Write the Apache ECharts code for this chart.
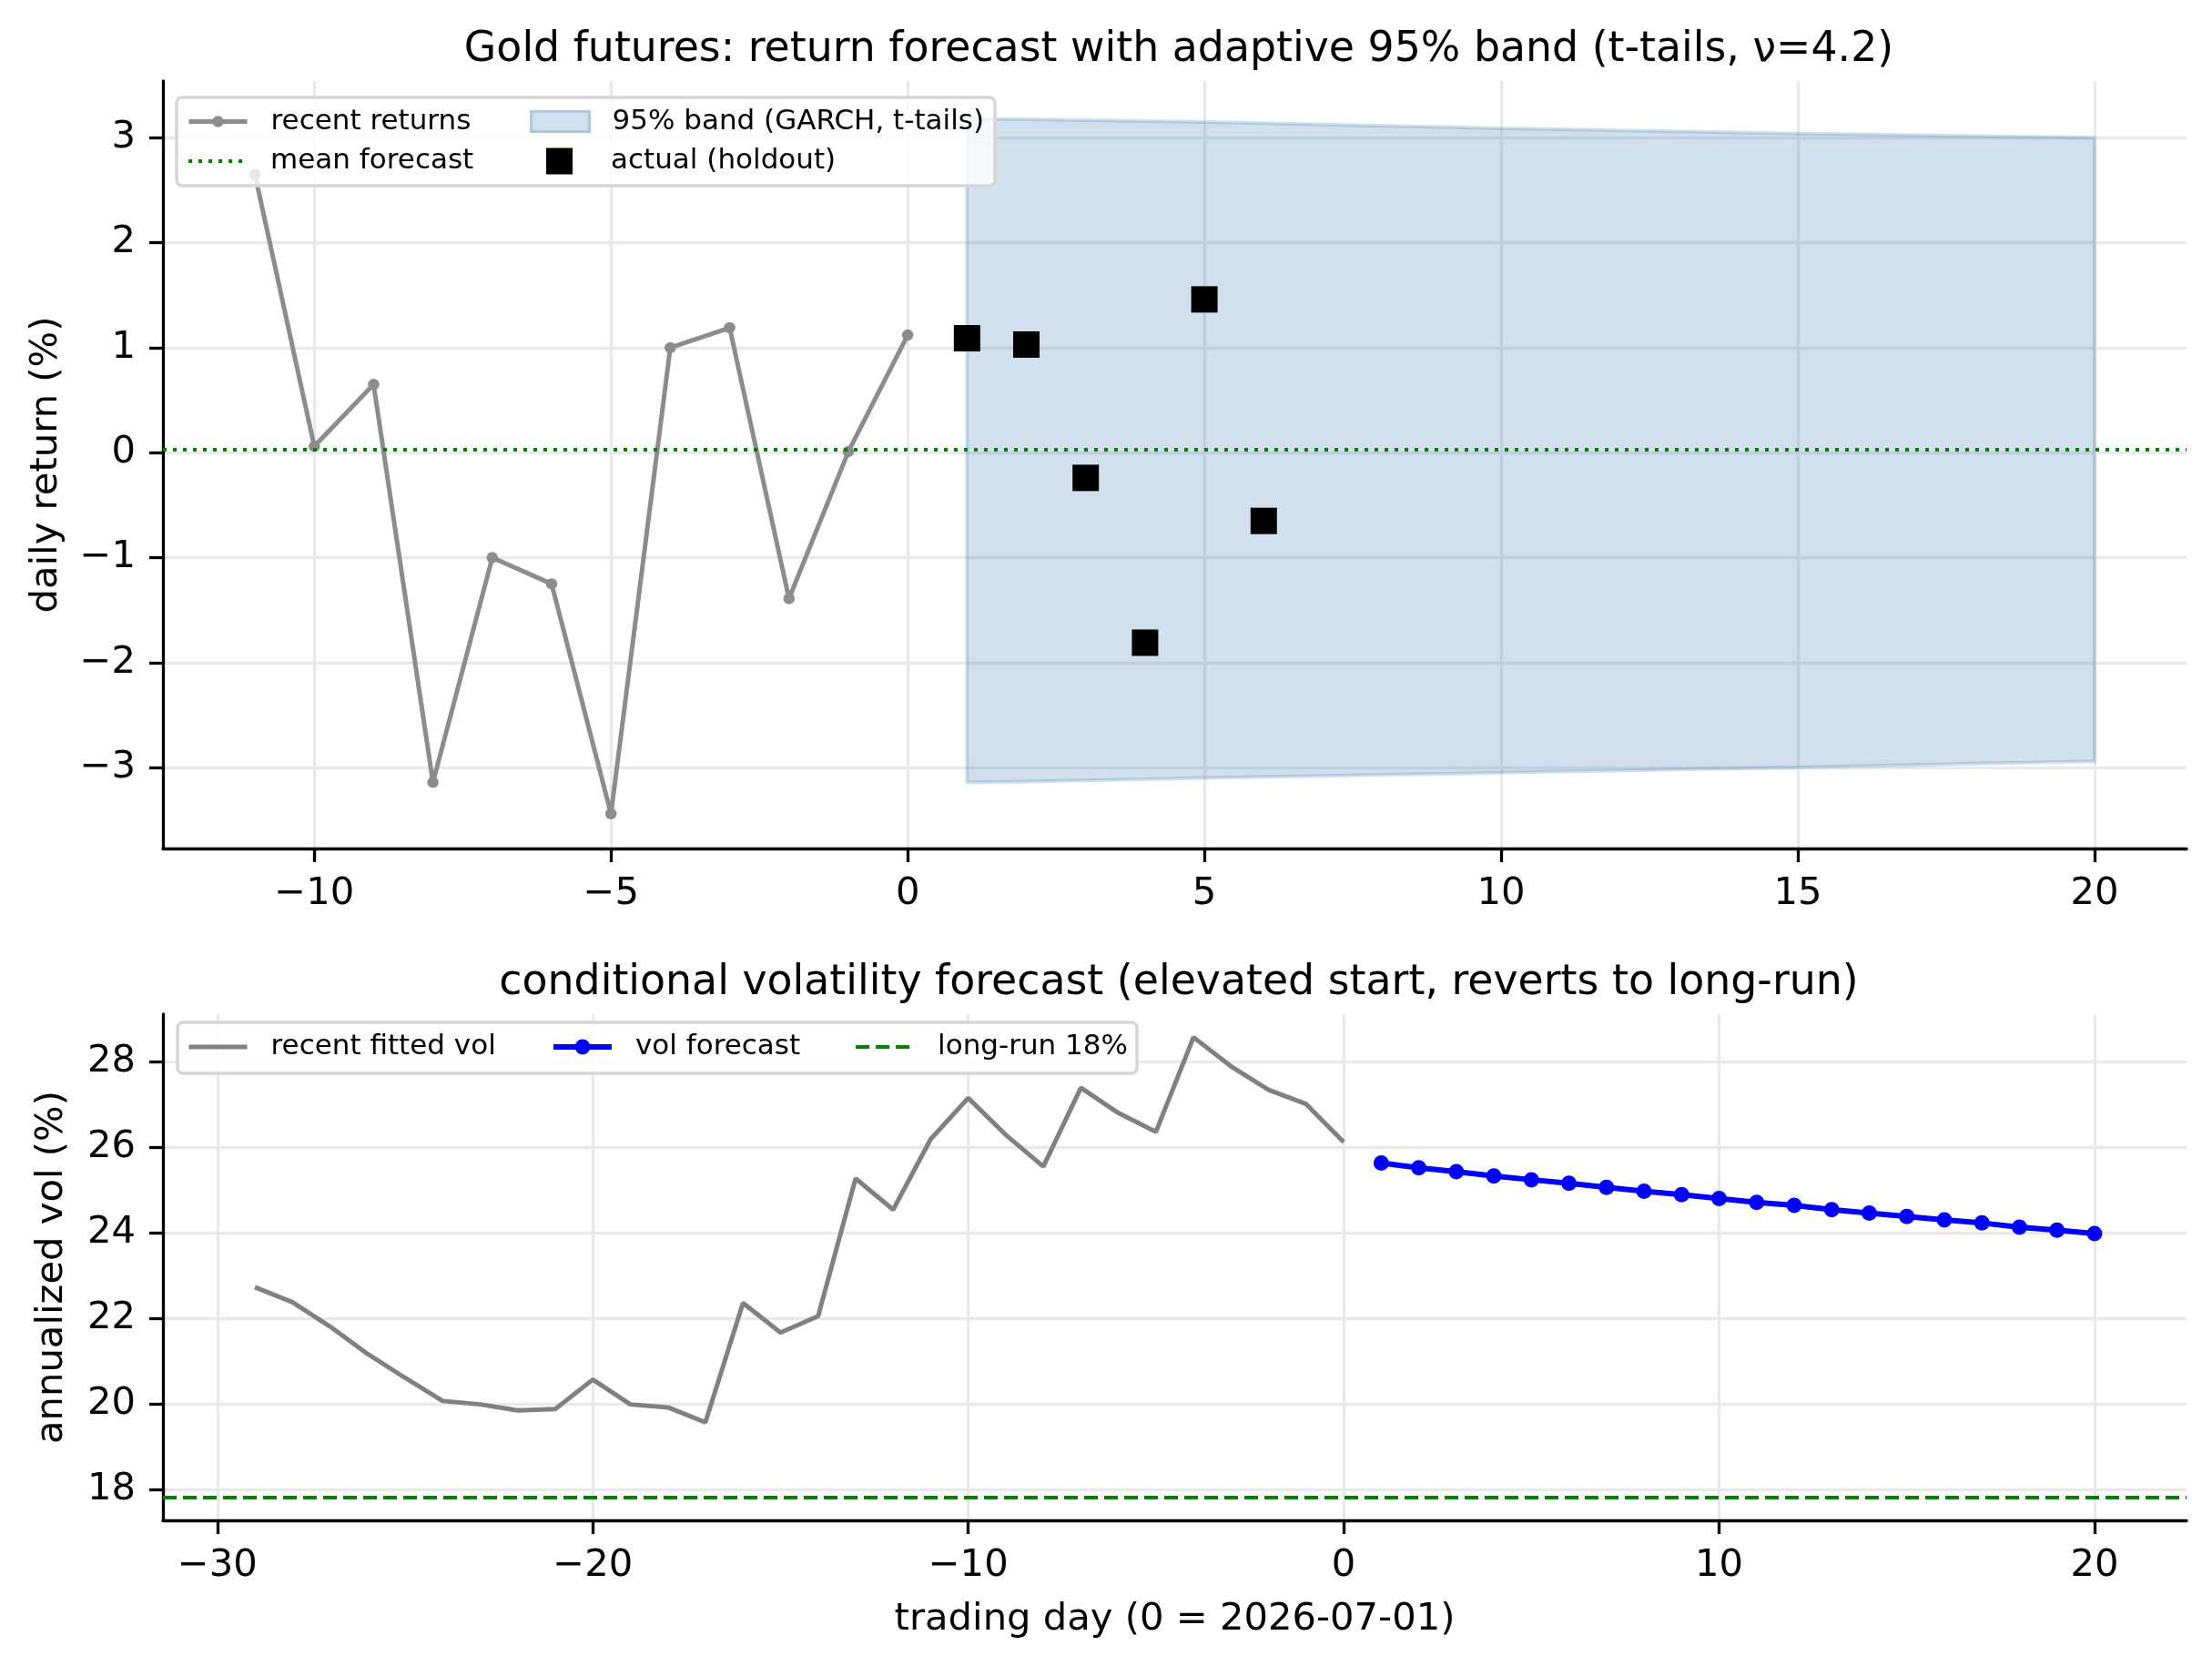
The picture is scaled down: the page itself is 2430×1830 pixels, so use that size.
<!DOCTYPE html>
<html>
<head>
<meta charset="utf-8">
<script src="https://cdn.jsdelivr.net/npm/echarts@6/dist/echarts.min.js"></script>
<style>
  html, body { margin: 0; padding: 0; background: #fff; }
  #chart { width: 2430px; height: 1830px; }
</style>
</head>
<body>
<div id="chart"></div>
<script>
// top panel: recent daily returns, holdout actuals, 95% band
const recentDays = [-11, -10, -9, -8, -7, -6, -5, -4, -3, -2, -1, 0];
const recentReturns = [2.65, 0.06, 0.65, -3.14, -1.0, -1.25, -3.44, 1.0, 1.19, -1.39, 0.01, 1.12];
const holdoutDays = [1, 2, 3, 4, 5, 6];
const holdoutActual = [1.09, 1.03, -0.24, -1.81, 1.46, -0.65];
const bandDays = [1, 2, 3, 4, 5, 6, 7, 8, 9, 10, 11, 12, 13, 14, 15, 16, 17, 18, 19, 20];
const bandHi = [3.18, 3.175, 3.167, 3.158, 3.15, 3.138, 3.126, 3.114, 3.102, 3.09,
                3.08, 3.07, 3.06, 3.05, 3.04, 3.032, 3.024, 3.016, 3.008, 3.0];
const bandLo = [-3.14, -3.132, -3.122, -3.11, -3.098, -3.088, -3.078, -3.068, -3.058, -3.048,
                -3.038, -3.028, -3.018, -3.008, -2.998, -2.986, -2.974, -2.962, -2.95, -2.94];
const meanForecast = 0.03;

// bottom panel: fitted vol and forecast
const volDays = [-29, -28, -27, -26, -25, -24, -23, -22, -21, -20, -19, -18, -17, -16, -15,
                 -14, -13, -12, -11, -10, -9, -8, -7, -6, -5, -4, -3, -2, -1, 0];
const volFitted = [22.74, 22.39, 21.82, 21.18, 20.62, 20.08, 20.0, 19.86, 19.89, 20.58,
                   20.0, 19.93, 19.58, 22.37, 21.68, 22.06, 25.28, 24.55, 26.2, 27.16,
                   26.3, 25.56, 27.4, 26.81, 26.37, 28.58, 27.9, 27.35, 27.02, 26.13];
const fcDays = [1, 2, 3, 4, 5, 6, 7, 8, 9, 10, 11, 12, 13, 14, 15, 16, 17, 18, 19, 20];
const volForecast = [25.64, 25.53, 25.44, 25.34, 25.25, 25.17, 25.07, 24.98, 24.9, 24.81,
                     24.72, 24.65, 24.55, 24.47, 24.39, 24.31, 24.24, 24.14, 24.07, 23.99];
const longRun = 17.82;

// tick labels
const topXTicks = [-10, -5, 0, 5, 10, 15, 20];
const topYTicks = [-3, -2, -1, 0, 1, 2, 3];
const botXTicks = [-30, -20, -10, 0, 10, 20];
const botYTicks = [18, 20, 22, 24, 26, 28];

const FONT = 'DejaVu Sans';
const minus = (v) => String(v).replace('-', '\u2212');

function valueAxis(gridIndex, min, max, ticks, margin, extra) {
  return Object.assign({
    type: 'value',
    gridIndex: gridIndex,
    min: min,
    max: max,
    axisLine: { show: true, onZero: false, lineStyle: { color: '#000', width: 3.3 } },
    axisTick: { show: true, inside: false, length: 15, customValues: ticks,
                lineStyle: { color: '#000', width: 3.3 } },
    axisLabel: { customValues: ticks, formatter: minus, color: '#000',
                 fontFamily: FONT, fontSize: 41.7, margin: margin },
    splitLine: { show: true, lineStyle: { color: '#e9e9e9', width: 3.3 } },
    nameTextStyle: { color: '#000', fontFamily: FONT, fontSize: 41.7 }
  }, extra);
}

function legendItem(name, left, top, w, h, padLeft, extra) {
  return Object.assign({
    data: [name],
    left: left,
    top: top,
    itemWidth: w,
    itemHeight: h,
    padding: 0,
    selectedMode: false,
    z: 60,
    textStyle: { color: '#000', fontFamily: FONT, fontSize: 31, padding: [0, 0, 0, padLeft] }
  }, extra);
}

const chart = echarts.init(document.getElementById('chart'), null, { renderer: 'canvas' });

const titleStyle = { color: '#000', fontFamily: FONT, fontSize: 45.8, fontWeight: 'normal' };

const option = {
  animation: false,
  backgroundColor: '#fff',
  title: [
    { text: 'Gold futures: return forecast with adaptive 95% band (t-tails, \u03bd=4.2)',
      left: 1290, top: 27, textAlign: 'center', textStyle: titleStyle },
    { text: 'conditional volatility forecast (elevated start, reverts to long-run)',
      left: 1290, top: 1052, textAlign: 'center', textStyle: titleStyle }
  ],
  grid: [
    { left: 179, right: 28, top: 89, height: 843 },
    { left: 179, right: 28, top: 1114, height: 556 }
  ],
  xAxis: [
    valueAxis(0, -12.55, 21.55, topXTicks, 29),
    valueAxis(1, -31.45, 22.45, botXTicks, 29,
      { name: 'trading day (0 = 2026-07-01)', nameLocation: 'middle', nameGap: 88 })
  ],
  yAxis: [
    valueAxis(0, -3.77, 3.54, topYTicks, 30,
      { name: 'daily return (%)', nameLocation: 'middle', nameGap: 107 }),
    valueAxis(1, 17.29, 29.12, botYTicks, 30,
      { name: 'annualized vol (%)', nameLocation: 'middle', nameGap: 101 })
  ],
  legend: [
    legendItem('recent returns', 205, 118, 64, 15.6, 21, { lineStyle: { width: 5 } }),
    legendItem('mean forecast', 205, 161.5, 64, 16, 21,
      { lineStyle: { width: 4.2, type: [4, 7] }, itemStyle: { opacity: 0 } }),
    legendItem({ name: '95% band (GARCH, t-tails)', icon: 'rect',
                 itemStyle: { color: '#d1e0ec', borderColor: '#aec8de', borderWidth: 3 } },
      582, 118, 64, 22, 20),
    legendItem({ name: 'actual (holdout)', itemStyle: { color: '#000', opacity: 1 } },
      600, 161.5, 29, 29, 37),
    legendItem('recent fitted vol', 205, 1134.5, 64, 16, 21,
      { lineStyle: { width: 5 }, itemStyle: { opacity: 0 } }),
    legendItem('vol forecast', 605, 1134.5, 64, 21, 21, { lineStyle: { width: 6 } }),
    legendItem('long-run 18%', 938, 1134.5, 64, 16, 21,
      { lineStyle: { width: 4.2, type: [15, 7] }, itemStyle: { opacity: 0 } })
  ],
  graphic: [
    { type: 'rect', z: 50, shape: { x: 194, y: 107, width: 899, height: 97, r: 6 },
      style: { fill: 'rgba(255,255,255,0.8)', stroke: '#d6d6d6', lineWidth: 3.5 } },
    { type: 'rect', z: 50, shape: { x: 195, y: 1123, width: 1054, height: 56, r: 6 },
      style: { fill: 'rgba(255,255,255,0.8)', stroke: '#d6d6d6', lineWidth: 3.5 } }
  ],
  series: [
    {
      name: '95% band (GARCH, t-tails)',
      type: 'custom',
      xAxisIndex: 0, yAxisIndex: 0,
      z: 1,
      itemStyle: { color: '#d1e0ec' },
      data: bandDays.map((d, i) => [d, bandLo[i], bandHi[i]]),
      encode: { x: 0, y: [1, 2] },
      renderItem: function (params, api) {
        if (params.dataIndex !== 0) return;
        const pts = [];
        for (let i = 0; i < bandDays.length; i++) pts.push(api.coord([bandDays[i], bandHi[i]]));
        for (let i = bandDays.length - 1; i >= 0; i--) pts.push(api.coord([bandDays[i], bandLo[i]]));
        return {
          type: 'polygon',
          shape: { points: pts },
          style: { fill: 'rgba(70,130,180,0.25)', stroke: 'rgba(70,130,180,0.25)', lineWidth: 4 }
        };
      }
    },
    {
      name: 'recent returns',
      type: 'line',
      xAxisIndex: 0, yAxisIndex: 0,
      z: 3,
      data: recentDays.map((d, i) => [d, recentReturns[i]]),
      symbol: 'circle',
      symbolSize: 12.5,
      color: '#8c8c8c',
      itemStyle: { color: '#8c8c8c' },
      lineStyle: { color: '#8c8c8c', width: 5 }
    },
    {
      name: 'mean forecast',
      type: 'line',
      xAxisIndex: 0, yAxisIndex: 0,
      z: 4,
      data: [],
      symbol: 'none',
      color: '#008000',
      lineStyle: { color: '#008000', width: 4.2, type: [4, 7] },
      markLine: {
        silent: true,
        symbol: 'none',
        label: { show: false },
        lineStyle: { color: '#008000', width: 4.2, type: [4, 7] },
        data: [{ yAxis: meanForecast }]
      }
    },
    {
      name: 'actual (holdout)',
      type: 'scatter',
      xAxisIndex: 0, yAxisIndex: 0,
      z: 5,
      symbol: 'rect',
      symbolSize: 29,
      color: '#000',
      itemStyle: { color: '#000', opacity: 1 },
      data: holdoutDays.map((d, i) => [d, holdoutActual[i]])
    },
    {
      name: 'recent fitted vol',
      type: 'line',
      xAxisIndex: 1, yAxisIndex: 1,
      z: 3,
      data: volDays.map((d, i) => [d, volFitted[i]]),
      symbol: 'none',
      color: '#808080',
      lineStyle: { color: '#808080', width: 5 }
    },
    {
      name: 'vol forecast',
      type: 'line',
      xAxisIndex: 1, yAxisIndex: 1,
      z: 4,
      data: fcDays.map((d, i) => [d, volForecast[i]]),
      symbol: 'circle',
      symbolSize: 17,
      color: '#0000ff',
      itemStyle: { color: '#0000ff' },
      lineStyle: { color: '#0000ff', width: 6 }
    },
    {
      name: 'long-run 18%',
      type: 'line',
      xAxisIndex: 1, yAxisIndex: 1,
      z: 4,
      data: [],
      symbol: 'none',
      color: '#008000',
      lineStyle: { color: '#008000', width: 4.2, type: [15, 7] },
      markLine: {
        silent: true,
        symbol: 'none',
        label: { show: false },
        lineStyle: { color: '#008000', width: 4.2, type: [15, 7] },
        data: [{ yAxis: longRun }]
      }
    }
  ]
};

chart.setOption(option);
</script>
</body>
</html>
